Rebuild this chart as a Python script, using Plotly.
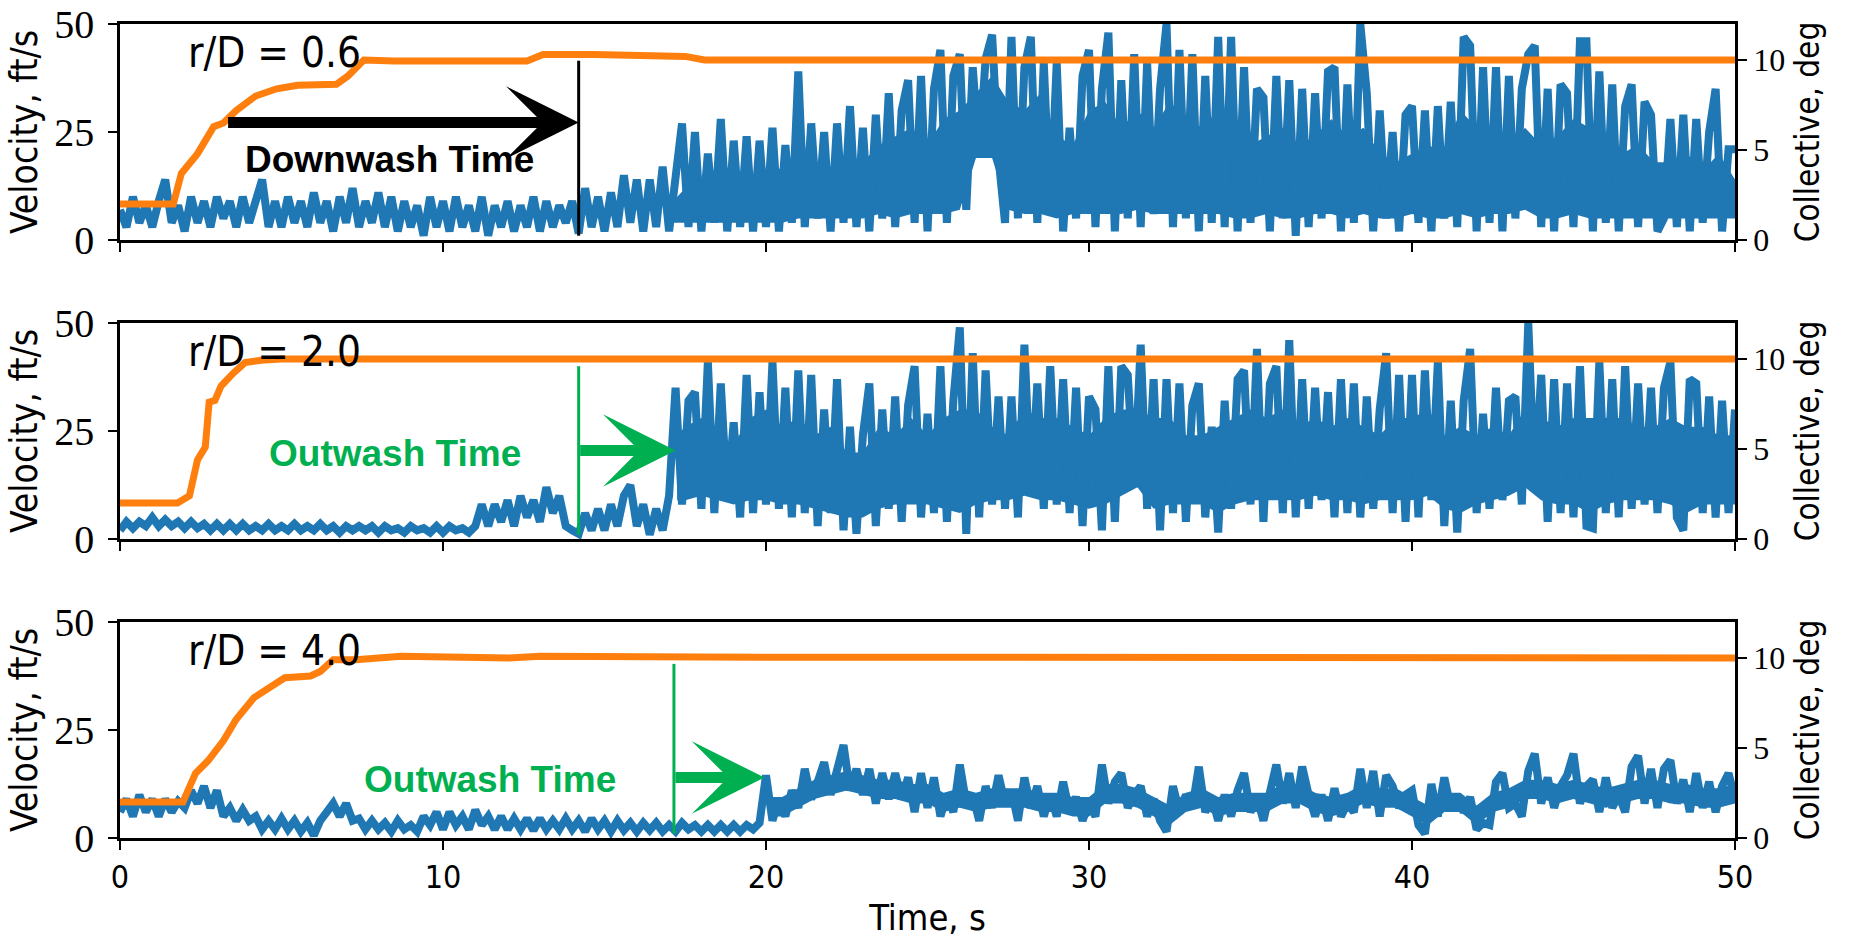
import plotly.graph_objects as go

# ---------------- data ----------------
DT = 0.2  # sample spacing of the velocity records, s
N_SAMPLES = 251

# r/D = 0.6 velocity, ft/s (t = 0 ... 50 s, every 0.2 s)
VEL_06 = [
    7, 3, 10, 4, 8, 3, 9, 14, 4, 8, 2, 10, 4, 9, 3, 10, 5, 9, 3, 10, 4, 9, 14, 3, 9,
    3, 10, 4, 9, 3, 11, 4, 9, 2, 10, 4, 12, 3, 9, 4, 11, 3, 10, 2, 9, 3, 8, 1, 10, 3,
    9, 2, 10, 3, 8, 2, 10, 1, 8, 3, 9, 2, 8, 3, 10, 2, 9, 3, 8, 4, 9, 1.5, 12, 3, 10,
    2, 11, 3, 15, 4, 14, 2, 14, 3, 17, 2, 16, 27, 3, 25, 2, 20, 4, 28, 2, 23, 3, 24, 2, 23,
    3, 26, 2, 22, 4, 39, 3, 27, 5, 25, 2, 27, 4, 31, 3, 26, 2, 29, 5, 34, 3, 30, 37, 4, 38,
    2, 35, 44, 4, 38, 43, 7, 40, 20, 42, 47.5, 19, 4, 47, 5, 40, 47, 4, 41, 6, 41, 2, 26, 5, 38,
    44, 3, 35, 48, 2, 37, 5, 43, 3, 41, 6, 35, 50, 3, 44, 5, 43, 2, 38, 4, 47, 3, 47, 2, 40,
    4, 35, 33, 2, 38, 5, 37, 1, 35, 3, 34, 5, 39, 40, 2, 36, 4, 50, 34, 2, 30, 5, 25, 2, 29,
    31, 4, 30, 2, 31, 5, 32, 3, 47, 45, 2, 40, 4, 40, 2, 38, 5, 35, 43, 45, 3, 35, 2, 36, 34,
    3, 46, 46, 2, 39, 4, 36, 2, 31, 36, 3, 32, 29, 2, 5, 28, 3, 29, 2, 28, 4, 25, 35, 2, 21,
    21,
]

# r/D = 2.0 velocity, ft/s
VEL_20 = [
    2, 4, 2.5, 4, 3, 5, 3, 4.5, 3, 4, 2.5, 4, 2.5, 3.5, 2, 3.5, 2, 3.5, 2, 3.5, 2, 3, 2, 3.5, 2,
    3, 2, 3.5, 2, 3, 2, 3.5, 2, 3, 1.5, 3, 2, 3, 2, 3, 1.5, 3, 2, 2.5, 1.5, 3, 2, 2.5, 1.5, 3,
    1.5, 3, 2, 2.5, 1.5, 3, 8, 3, 8, 4, 9, 3, 10, 5, 9, 4, 12, 6, 10, 3, 2, 1.2, 6, 2, 7,
    2, 8, 3, 10, 12.5, 3, 8, 1, 7, 2, 10, 35, 8, 32, 34, 7, 41, 6, 36, 9, 27, 5, 38, 6, 34,
    8, 41, 7, 35, 5, 39, 6, 38, 3, 30, 6, 37, 2, 26, 1.2, 24, 36, 3, 30, 7, 33, 4, 31, 40, 5,
    29, 6, 40, 4, 32, 49, 1.2, 43, 5, 39, 8, 33, 7, 33, 5, 45, 10, 36, 7, 40, 8, 37, 6, 35, 3,
    33, 30, 2, 40, 4, 40, 38, 12, 45, 7, 37, 2, 37, 6, 36, 4, 31, 36, 5, 26, 1.5, 32, 7, 37, 39,
    8, 44, 4, 36, 40, 6, 46, 5, 37, 7, 35, 9, 34, 5, 37, 6, 36, 5, 33, 7, 30, 43, 6, 38, 4,
    38, 5, 39, 9, 41, 3, 32, 1.5, 32, 44, 6, 29, 7, 35, 9, 32, 33, 8, 50, 12, 38, 4, 37, 6, 36,
    5, 40, 3, 2.5, 41, 6, 37, 5, 40, 7, 36, 8, 35, 6, 35, 41, 5, 2, 37, 36, 6, 33, 5, 32, 6,
    30,
]

# r/D = 4.0 velocity, ft/s
VEL_40 = [
    6, 9, 5, 10, 6, 9, 5, 9, 6, 8.5, 7, 11, 8, 12, 7, 11, 5, 7, 4, 6.5, 4, 5, 2, 4, 2,
    4.5, 2, 4, 1.5, 3.5, 0.6, 4, 6, 8, 5, 8, 4, 4.5, 2, 4, 2, 3.5, 1.5, 4, 2, 3, 1.5, 5, 3, 6,
    2, 6, 3, 5, 2, 6.5, 3, 5, 2, 5, 2, 4.5, 2, 4.5, 1.8, 4.5, 2, 4, 2, 4.5, 2, 4, 1.5, 4.5, 2,
    4, 1.5, 4, 1.8, 3.5, 1.5, 3.5, 1.8, 3.5, 1.5, 3, 1.5, 3.5, 2, 3, 1.5, 3, 1.5, 3, 1.5, 3, 1.5, 3, 2, 3.5,
    14.5, 4, 9, 5, 11, 7, 16, 9, 13, 17.5, 10, 16, 21.5, 11, 16, 10, 16, 8, 15, 9, 15, 9, 14, 6, 15,
    7, 14, 5, 10, 6, 17, 8, 10, 4, 12, 7, 14.5, 8, 11, 4, 14, 7, 12, 5, 10, 5, 13, 6, 9.5, 4,
    8, 5, 17, 8, 13, 15, 7, 10, 12, 5, 9, 4, 1.5, 12, 6, 10, 7, 16.5, 6, 9.5, 4, 10, 5, 11, 15,
    6, 9.5, 4, 11, 17, 8, 15, 7, 16.5, 10, 5, 10, 4, 11.5, 5, 8, 6, 16, 7, 15.5, 5, 14.5, 12, 7, 10,
    11, 3, 1, 12.5, 5, 14, 7, 9.5, 6, 9.5, 2, 3.5, 3, 13, 15, 7, 8, 5, 15.5, 19.5, 8, 14, 7, 12, 14.5,
    19.5, 8, 12, 13.5, 6, 14, 7, 10, 6, 16.5, 19, 8, 16, 7, 16, 18, 8, 13.5, 6, 15, 7, 13, 6, 12, 15,
    9,
]

# densely covered core of each fluctuating record, every 0.5 s (low / high, ft/s)
CORE_STEP = 0.5
CORE_06_START, CORE_20_START, CORE_40_START = 17.0, 17.25, 20.1
CORE_06_LO = [4, 4, 4, 4, 4, 4, 4, 4, 5, 5, 5, 5, 5, 6, 5, 6, 6, 6, 7, 19,
              19, 7, 6, 6, 5, 6, 6, 6, 6, 7, 6, 6, 6, 6, 6, 5, 5, 6, 5, 5,
              6, 6, 5, 6, 5, 5, 6, 5, 5, 6, 5, 6, 6, 7, 5, 5, 6, 5, 5, 5,
              5, 5, 5, 5, 5, 5, 5]
CORE_06_HI = [8, 12, 10, 14, 12, 15, 14, 17, 20, 18, 16, 20, 18, 22, 24, 26, 22, 28, 30, 34,
              38, 32, 30, 34, 24, 22, 30, 32, 26, 30, 26, 32, 28, 26, 30, 28, 22, 24, 26, 22,
              24, 28, 24, 26, 20, 18, 20, 22, 20, 30, 26, 24, 22, 26, 22, 24, 28, 26, 22, 20,
              22, 18, 18, 20, 16, 20, 14]
CORE_20_LO = [9, 9, 10, 9, 8, 9, 9, 8, 8, 7, 6, 5, 5, 7, 8, 8, 8, 7, 6, 8,
              9, 9, 10, 9, 9, 8, 7, 8, 10, 12, 7, 8, 8, 8, 6, 8, 9, 9, 9, 9,
              10, 9, 9, 8, 9, 9, 9, 10, 7, 6, 8, 9, 10, 12, 9, 8, 8, 6, 8, 9,
              9, 9, 8, 6, 8, 8, 8]
CORE_20_HI = [24, 26, 28, 24, 22, 28, 30, 26, 28, 24, 26, 20, 20, 26, 24, 28, 24, 28, 30, 30,
              26, 24, 30, 28, 28, 26, 24, 28, 30, 30, 28, 28, 24, 24, 26, 28, 30, 28, 30, 26,
              28, 26, 28, 26, 24, 28, 28, 30, 24, 26, 24, 26, 24, 30, 28, 26, 28, 28, 28, 28,
              26, 26, 28, 26, 26, 24, 24]
CORE_40_LO = [5, 5, 7, 9, 10, 11, 10, 9, 9, 8, 8, 6, 7, 6, 7, 7, 7, 6, 6, 5,
              5, 8, 8, 7, 5, 3, 6, 7, 5, 6, 6, 6, 8, 8, 6, 5, 6, 8, 7, 7,
              5, 3, 6, 6, 3, 6, 7, 9, 9, 8, 9, 8, 7, 8, 9, 9, 8, 8, 7, 7, 8]
CORE_40_HI = [9.5, 9.5, 11.5, 13.5, 14.5, 15.5, 14.5, 13.5, 13.5, 12.5,
              12.5, 10.5, 11.5, 10.5, 11.5, 11.5, 11.5, 10.5, 10.5, 9.5,
              9.5, 12.5, 12.5, 11.5, 9.5, 7.5, 10.5, 11.5, 9.5, 10.5,
              10.5, 10.5, 12.5, 12.5, 10.5, 9.5, 10.5, 12.5, 11.5, 11.5,
              9.5, 7.5, 10.5, 10.5, 7.5, 10.5, 11.5, 13.5, 13.5, 12.5,
              13.5, 12.5, 11.5, 12.5, 13.5, 13.5, 12.5, 12.5, 11.5, 11.5, 12.5]

# collective pitch, deg (time in s)
COLL_06_T = [0, 1.65, 1.9, 2.4, 2.9, 3.2, 3.6, 4.2, 4.85, 5.5, 6.7, 7.05, 7.55, 8.5, 12.6, 13.1, 14.7, 17.5, 18.1, 50]
COLL_06 = [2.0, 2.0, 3.7, 4.8, 6.3, 6.5, 7.2, 8.0, 8.4, 8.6, 8.65, 9.1, 10.0, 9.95, 9.95, 10.3, 10.3, 10.2, 10.0, 10.0]
COLL_20_T = [0, 1.78, 2.15, 2.4, 2.64, 2.76, 2.94, 3.13, 3.5, 3.87, 4.36, 5.0, 50]
COLL_20 = [2.0, 2.0, 2.4, 4.4, 5.1, 7.6, 7.7, 8.5, 9.2, 9.8, 9.93, 10.0, 10.0]
COLL_40_T = [0, 1.95, 2.34, 2.73, 3.2, 3.6, 4.15, 4.63, 5.1, 5.9, 6.2, 6.6, 7.3, 8.7, 12.05, 13.0, 18.0, 50]
COLL_40 = [2.0, 2.0, 3.6, 4.3, 5.4, 6.6, 7.8, 8.4, 8.9, 9.0, 9.25, 9.9, 9.9, 10.1, 10.0, 10.1, 10.05, 10.0]

PANEL_LABELS = ["r/D = 0.6", "r/D = 2.0", "r/D = 4.0"]
X_TICKS = [0, 10, 20, 30, 40, 50]
VEL_TICKS = [0, 25, 50]
COLL_TICKS = [0, 5, 10]

# annotation marks (time s, velocity ft/s)
EVENT_TIMES = [14.2, 14.2, 17.15]          # vertical marker line per panel
EVENT_TOP = [41.5, 40.0, 40.3]
ARROW_FROM = [3.3, 14.2, 17.15]
ARROW_TO = [14.2, 17.2, 19.95]
ARROW_LEVEL = [27.2, 20.5, 14.0]
ARROW_TEXT = ["Downwash Time", "Outwash Time", "Outwash Time"]
ARROW_TEXT_POS = [(8.35, 18.6), (8.5, 19.9), (11.45, 13.6)]
MARK_COLORS = ["#000000", "#00b050", "#00b050"]

# ---------------- figure ----------------
BLUE = "#1f77b4"
ORANGE = "#ff7f0e"
SANS = "DejaVu Sans Condensed, DejaVu Sans, sans-serif"
SERIF = "Liberation Serif, DejaVu Serif, serif"
BOLD = "Liberation Sans, Arial, sans-serif"

time = [round(i * DT, 1) for i in range(N_SAMPLES)]


def core_times(start, n):
    # first point at the onset, then the regular 0.5 s grid up to 50 s
    grid = [round(50 - CORE_STEP * k, 2) for k in range(n - 1)][::-1]
    return [start] + grid


vels = [VEL_06, VEL_20, VEL_40]
cores = [
    (core_times(CORE_06_START, len(CORE_06_LO)), CORE_06_LO, CORE_06_HI),
    (core_times(CORE_20_START, len(CORE_20_LO)), CORE_20_LO, CORE_20_HI),
    (core_times(CORE_40_START, len(CORE_40_LO)), CORE_40_LO, CORE_40_HI),
]
colls = [(COLL_06_T, COLL_06), (COLL_20_T, COLL_20), (COLL_40_T, COLL_40)]

# full-window figure (the page margin is removed by the post script below)
W, H = 1850, 940
ML, MR, MT, MB = 120, 115, 24, 102
plot_h = H - MT - MB
panel_px = [(24, 240), (323, 539), (622, 838)]
domains = [[(H - MB - b) / plot_h, (H - MB - t) / plot_h] for t, b in panel_px]
domains = [[max(0, round(a, 4)), min(1, round(b, 4))] for a, b in domains]

fig = go.Figure()
layout = dict(
    width=W, height=H,
    margin=dict(l=ML, r=MR, t=MT, b=MB, autoexpand=False),
    plot_bgcolor="white", paper_bgcolor="white",
    showlegend=False,
)

for i in range(3):
    xa = "x" if i == 0 else f"x{i+1}"
    ya = f"y{2*i+1}" if i > 0 else "y"
    yb = f"y{2*i+2}"
    ct, clo, chi = cores[i]
    fig.add_trace(go.Scatter(x=ct, y=clo, mode="lines", xaxis=xa, yaxis=ya,
                             line=dict(color=BLUE, width=0), hoverinfo="skip"))
    fig.add_trace(go.Scatter(x=ct, y=chi, mode="lines", xaxis=xa, yaxis=ya, fill="tonexty",
                             fillcolor=BLUE, line=dict(color=BLUE, width=0), hoverinfo="skip"))
    fig.add_trace(go.Scatter(x=time, y=vels[i], mode="lines", xaxis=xa, yaxis=ya,
                             line=dict(color=BLUE, width=8), hoverinfo="skip"))
    fig.add_trace(go.Scatter(x=colls[i][0], y=colls[i][1], mode="lines", xaxis=xa, yaxis=yb,
                             line=dict(color=ORANGE, width=7), hoverinfo="skip"))

    xkey = "xaxis" if i == 0 else f"xaxis{i+1}"
    ykey = "yaxis" if i == 0 else f"yaxis{2*i+1}"
    y2key = f"yaxis{2*i+2}"
    last = i == 2
    layout[xkey] = dict(
        domain=[0, 1], anchor=ya, range=[0, 50], tickvals=X_TICKS, automargin=False,
        showticklabels=last, ticks="outside", ticklen=9, tickwidth=2, tickcolor="black",
        showline=True, linecolor="black", linewidth=2.5, mirror=True,
        showgrid=False, zeroline=False, ticklabeloverflow="allow",
        tickfont=dict(family=SANS, size=32, color="black"),
        title=dict(text="Time, s", font=dict(family=SANS, size=36, color="black"), standoff=10) if last else None,
    )
    if i > 0:
        layout[xkey]["matches"] = "x"
    layout[ykey] = dict(
        domain=domains[i], anchor=xa, range=[0, 50], tickvals=VEL_TICKS, automargin=False,
        ticks="outside", ticklen=9, tickwidth=2, tickcolor="black", ticklabelstandoff=6,
        showline=True, linecolor="black", linewidth=2.5, ticklabeloverflow="allow",
        showgrid=False, zeroline=False,
        tickfont=dict(family=SERIF, size=40, color="black"),
        title=dict(text="Velocity, ft/s", font=dict(family=SANS, size=37, color="black"), standoff=6),
    )
    layout[y2key] = dict(
        overlaying=ya, side="right", anchor=xa, range=[0, 12], tickvals=COLL_TICKS, automargin=False,
        ticks="outside", ticklen=9, tickwidth=2, tickcolor="black",
        showline=True, linecolor="black", linewidth=2.5, ticklabeloverflow="allow",
        showgrid=False, zeroline=False,
        tickfont=dict(family=SERIF, size=32, color="black"),
        title=dict(text="Collective, deg", font=dict(family=SANS, size=33, color="black"), standoff=12),
    )

fig.update_layout(**layout)

for i in range(3):
    xa = "x" if i == 0 else f"x{i+1}"
    ya = "y" if i == 0 else f"y{2*i+1}"
    col = MARK_COLORS[i]
    # panel label
    fig.add_annotation(x=2.05, y=43.5, xref=xa, yref=ya, text=PANEL_LABELS[i], showarrow=False,
                       xanchor="left", yanchor="middle",
                       font=dict(family=SANS, size=42, color="black"))
    # event marker line
    fig.add_shape(type="line", xref=xa, yref=ya, x0=EVENT_TIMES[i], x1=EVENT_TIMES[i],
                  y0=1.0, y1=EVENT_TOP[i], line=dict(color=col, width=3))
    # arrow
    fig.add_annotation(x=ARROW_TO[i], y=ARROW_LEVEL[i], ax=ARROW_FROM[i], ay=ARROW_LEVEL[i],
                       xref=xa, yref=ya, axref=xa, ayref=ya, text="", showarrow=True,
                       arrowhead=3, arrowsize=1.1, arrowwidth=11, arrowcolor=col, standoff=0)
    # label
    tx, ty = ARROW_TEXT_POS[i]
    fig.add_annotation(x=tx, y=ty, xref=xa, yref=ya, text=f"<b>{ARROW_TEXT[i]}</b>", showarrow=False,
                       xanchor="center", yanchor="middle",
                       font=dict(family=BOLD, size=37, color=col))

fig.write_html("out.html",
               config={"displayModeBar": False},
               post_script="document.body.style.margin='0px';document.body.style.overflow='hidden';")
